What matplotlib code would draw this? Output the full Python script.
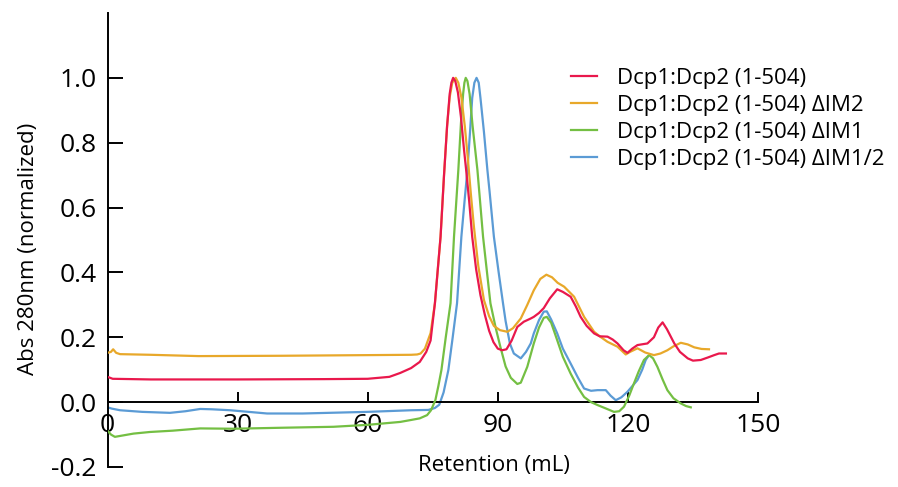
import matplotlib
matplotlib.use('Agg')
import matplotlib.pyplot as plt

plt.rcParams['font.family'] = ['Open Sans', 'DejaVu Sans']

# Dcp1:Dcp2 (1-504)
red_x = [0, 1.2, 10, 30, 50, 60, 65, 67.5, 70, 72, 73.5, 74.5, 75.5, 76.8, 77.6, 78.3, 78.9,
         79.3, 79.7, 80.2, 80.8, 81.5, 82.2, 82.7, 83.4, 84.1, 85.0, 86.0, 87.0, 88.0, 89.0,
         90.0, 91.0, 92.0, 93.2, 94.5, 96, 97.6, 98.3, 99.5, 100.6, 102, 103.7, 105, 106.8,
         108, 109.1, 110.5, 112.2, 113.5, 115.3, 116.5, 117.6, 119, 119.9, 121, 122.2, 124.5,
         126, 127, 128, 129, 130.7, 132, 133.8, 135, 136.8, 138.5, 139.9, 141, 142.6]
red_y = [0.078, 0.072, 0.07, 0.07, 0.071, 0.072, 0.078, 0.09, 0.105, 0.124, 0.155, 0.19,
         0.305, 0.51, 0.70, 0.85, 0.95, 0.985, 1.0, 0.99, 0.955, 0.88, 0.78, 0.716, 0.62, 0.51,
         0.41, 0.33, 0.27, 0.22, 0.185, 0.165, 0.16, 0.163, 0.19, 0.232, 0.248, 0.258, 0.263,
         0.275, 0.29, 0.32, 0.348, 0.34, 0.325, 0.295, 0.263, 0.235, 0.212, 0.203, 0.202,
         0.193, 0.181, 0.16, 0.152, 0.165, 0.176, 0.181, 0.2, 0.23, 0.246, 0.225, 0.181, 0.155,
         0.135, 0.128, 0.13, 0.138, 0.145, 0.15, 0.15]

# Dcp1:Dcp2 (1-504) dIM2
orange_x = [0, 0.8, 1.3, 2, 2.9, 10, 21, 40, 60, 70, 71.4, 72.2, 73.2, 74.5, 75.5, 76.8,
            77.6, 78.3, 78.9, 79.5, 80.3, 80.9, 81.6, 82.4, 83.1, 83.8, 84.5, 85.5, 86.8, 88,
            89.1, 90.5, 92.2, 93.5, 95.3, 96.8, 98.3, 99.8, 101.2, 102.5, 103.8, 105.3, 107.6,
            109.9, 112.2, 113.8, 115.3, 117.6, 119.5, 120.5, 122.2, 124, 126, 127.5, 129.1,
            130.5, 132.2, 133.8, 135.3, 137, 138.7]
orange_y = [0.152, 0.155, 0.163, 0.152, 0.148, 0.146, 0.142, 0.143, 0.145, 0.146, 0.147, 0.15,
            0.165, 0.213, 0.305, 0.51, 0.70, 0.85, 0.94, 0.985, 1.0, 0.985, 0.94, 0.85, 0.75,
            0.64, 0.54, 0.42, 0.315, 0.265, 0.235, 0.222, 0.217, 0.228, 0.258, 0.3, 0.345,
            0.38, 0.393, 0.385, 0.368, 0.356, 0.325, 0.263, 0.217, 0.2, 0.186, 0.171, 0.147,
            0.155, 0.166, 0.153, 0.145, 0.15, 0.16, 0.172, 0.183, 0.178, 0.169, 0.164, 0.163]

# Dcp1:Dcp2 (1-504) dIM1
green_x = [0, 0.8, 1.7, 3, 6, 9.8, 15, 21.4, 29, 40, 52.1, 60, 65, 67.5, 70, 72, 73.7, 74.6,
           75.6, 76.3, 77.0, 78.0, 79.1, 79.9, 80.9, 81.5, 82.0, 82.3, 82.6, 83.0, 83.5, 84.2,
           85.3, 86.6, 88.3, 89.5, 90.6, 91.8, 93, 94.5, 95.3, 96.8, 98.3, 99.5, 100.6, 101.3,
           102.3, 103.7, 105, 106.8, 108.5, 109.9, 111.5, 113, 115, 116.8, 118, 119.1, 120.3,
           121.4, 122.5, 123.7, 124.9, 125.8, 126.8, 128, 129.1, 130.5, 132.2, 133.4, 134.5]
green_y = [-0.088, -0.1, -0.107, -0.104, -0.097, -0.092, -0.088, -0.081, -0.082, -0.079,
           -0.076, -0.07, -0.064, -0.061, -0.055, -0.05, -0.04, -0.025, 0.006, 0.05, 0.099,
           0.2, 0.305, 0.51, 0.716, 0.86, 0.95, 0.985, 1.0, 0.99, 0.95, 0.85, 0.716, 0.51,
           0.305, 0.23, 0.17, 0.11, 0.075, 0.056, 0.06, 0.109, 0.181, 0.23, 0.26, 0.263, 0.245,
           0.191, 0.14, 0.088, 0.045, 0.016, 0.0, -0.009, -0.02, -0.03, -0.028, -0.014, 0.02,
           0.058, 0.095, 0.13, 0.145, 0.135, 0.109, 0.07, 0.037, 0.012, -0.004, -0.012, -0.016]

# Dcp1:Dcp2 (1-504) dIM1/2
blue_x = [0, 1, 2.9, 8, 14.4, 18, 21.4, 24, 28.3, 36.8, 45, 59.9, 70, 74, 75.5, 76.5, 77.5,
          78.6, 79.6, 80.6, 81.6, 82.4, 83.0, 83.6, 84.1, 84.6, 85.1, 85.6, 86.0, 86.8, 87.6,
          88.1, 89.1, 90.2, 91.2, 91.8, 92.8, 93.7, 95.3, 96.5, 97.6, 98.3, 99.5, 100.6, 101.3,
          102.3, 103.7, 105, 106.8, 108.5, 109.9, 111.5, 113, 114.9, 116, 117.2, 118.5, 119.9,
          122.2, 123.3, 124.1, 124.6]
blue_y = [-0.016, -0.02, -0.025, -0.03, -0.033, -0.028, -0.021, -0.022, -0.025, -0.035, -0.035,
          -0.03, -0.025, -0.024, -0.018, -0.008, 0.03, 0.099, 0.2, 0.305, 0.51, 0.63, 0.716,
          0.834, 0.938, 0.985, 1.0, 0.985, 0.938, 0.834, 0.716, 0.65, 0.51, 0.40, 0.305, 0.25,
          0.18, 0.15, 0.135, 0.155, 0.181, 0.212, 0.253, 0.279, 0.28, 0.255, 0.212, 0.165, 0.119,
          0.075, 0.042, 0.035, 0.037, 0.037, 0.02, 0.006, 0.015, 0.032, 0.068, 0.1, 0.13, 0.14]

labels = ['Dcp1:Dcp2 (1-504)', 'Dcp1:Dcp2 (1-504) \u0394IM2',
          'Dcp1:Dcp2 (1-504) \u0394IM1', 'Dcp1:Dcp2 (1-504) \u0394IM1/2']
colors = ['#e9184c', '#e8a82a', '#74bf43', '#5b9bd5']
x_ticks = [0, 30, 60, 90, 120, 150]
y_ticks = [-0.2, 0.0, 0.2, 0.4, 0.6, 0.8, 1.0]

fig = plt.figure(figsize=(8.98, 4.87), dpi=100)
ax = fig.add_axes([107.5 / 898, 20 / 487, 650.5 / 898, 454 / 487])

lw = 1.6
l_blue, = ax.plot(blue_x, blue_y, color=colors[3], lw=lw, zorder=2)
l_green, = ax.plot(green_x, green_y, color=colors[2], lw=lw, zorder=3)
l_orange, = ax.plot(orange_x, orange_y, color=colors[1], lw=lw, zorder=4)
l_red, = ax.plot(red_x, red_y, color=colors[0], lw=lw, zorder=5)

ax.set_xlim(0, 150)
ax.set_ylim(-0.2, 1.2)

ax.spines['top'].set_visible(False)
ax.spines['right'].set_visible(False)
ax.spines['bottom'].set_position(('data', 0))
for s in ('left', 'bottom'):
    ax.spines[s].set_linewidth(1.4)

ax.set_xticks(x_ticks)
ax.set_xticklabels([str(t) for t in x_ticks])
ax.set_yticks(y_ticks)
ax.set_yticklabels(['%.1f' % t for t in y_ticks])
ax.tick_params(axis='x', direction='in', length=7, width=1.4, pad=8, labelsize=19)
ax.tick_params(axis='y', direction='in', length=11, width=1.4, pad=8, labelsize=19)

ax.set_xlabel('Retention (mL)', fontsize=16)
ax.xaxis.set_label_coords(0.594, 0.026)
ax.set_ylabel('Abs 280nm (normalized)', fontsize=16)
ax.yaxis.set_label_coords(-0.105, 0.48)

ax.legend([l_red, l_orange, l_green, l_blue], labels, loc='upper left',
          bbox_to_anchor=(571 / 898, 1 - 68 / 487), bbox_transform=fig.transFigure,
          frameon=False, fontsize=16, handlelength=1.17, handletextpad=0.9,
          labelspacing=0.27, borderpad=0, borderaxespad=0)

fig.savefig('out.png', dpi=100)
